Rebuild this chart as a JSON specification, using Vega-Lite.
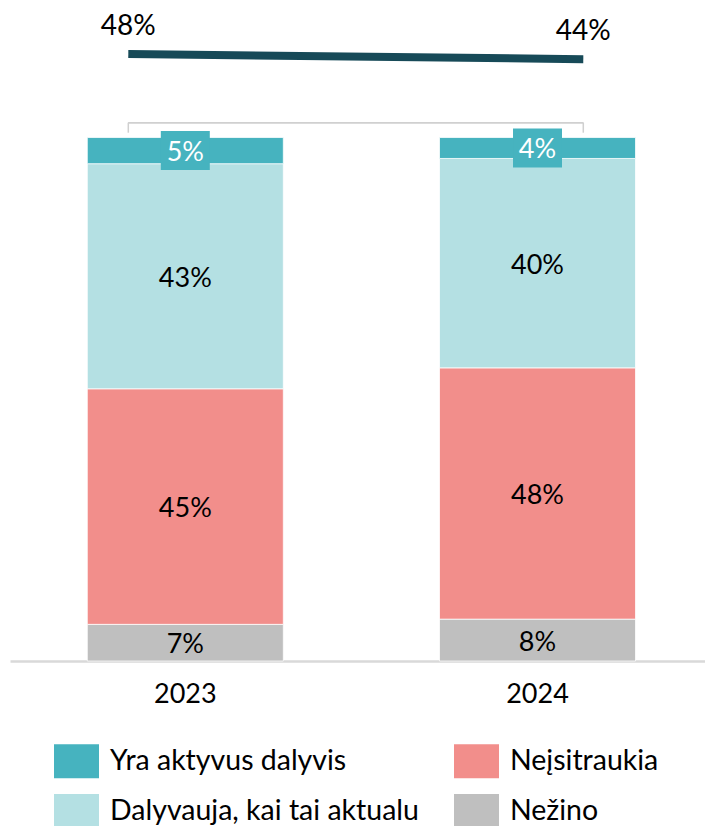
{
  "$schema": "https://vega.github.io/schema/vega-lite/v6.json",
  "width": 695,
  "height": 661,
  "autosize": "none",
  "padding": {"left": 10, "top": 0, "right": 0, "bottom": 165},
  "config": {"view": {"stroke": null}, "font": "Lato", "text": {"font": "Lato"}},
  "datasets": {
    "bars": [
      {"year": "2023", "category": "Nežino", "ord": 1, "value": 0.07},
      {"year": "2023", "category": "Neįsitraukia", "ord": 2, "value": 0.45},
      {"year": "2023", "category": "Dalyvauja, kai tai aktualu", "ord": 3, "value": 0.43},
      {"year": "2023", "category": "Yra aktyvus dalyvis", "ord": 4, "value": 0.05},
      {"year": "2024", "category": "Nežino", "ord": 1, "value": 0.08},
      {"year": "2024", "category": "Neįsitraukia", "ord": 2, "value": 0.48},
      {"year": "2024", "category": "Dalyvauja, kai tai aktualu", "ord": 3, "value": 0.40},
      {"year": "2024", "category": "Yra aktyvus dalyvis", "ord": 4, "value": 0.04}
    ],
    "line": [
      {"year": 2023, "share": 0.48},
      {"year": 2024, "share": 0.44}
    ]
  },
  "layer": [
    {
      "data": {"name": "bars"},
      "transform": [
        {"stack": "value", "groupby": ["year"], "sort": [{"field": "ord", "order": "ascending"}], "as": ["v0", "v1"]}
      ],
      "encoding": {
        "x": {
          "field": "year", "type": "nominal",
          "scale": {"paddingInner": 0.4435, "paddingOuter": 0.2084, "align": 0.5266},
          "axis": {
            "title": null, "labelAngle": 0, "ticks": false, "tickSize": 0,
            "labelFontSize": 27, "labelFont": "Lato", "labelColor": "#000000",
            "labelPadding": 20, "domainColor": "#D9D9D9", "domainWidth": 2.5
          }
        }
      },
      "layer": [
        {
          "mark": {"type": "bar", "stroke": "#ffffff", "strokeWidth": 0.75},
          "encoding": {
            "y": {"field": "v0", "type": "quantitative", "scale": {"domain": [0, 1.2627], "nice": false, "zero": true}, "axis": null},
            "y2": {"field": "v1"},
            "color": {
              "field": "category", "type": "nominal",
              "scale": {
                "domain": ["Yra aktyvus dalyvis", "Dalyvauja, kai tai aktualu", "Neįsitraukia", "Nežino"],
                "range": ["#46B3BF", "#B4E0E3", "#F28E8B", "#BFBFBF"]
              },
              "legend": {
                "title": null, "orient": "none", "legendX": 44, "legendY": 738.5,
                "direction": "vertical", "columns": 2, "columnPadding": 35, "rowPadding": 10,
                "padding": 0, "symbolType": "M-1,-0.7556H1V0.7556H-1Z", "symbolSize": 2025,
                "symbolStrokeWidth": 0, "symbolOpacity": 1,
                "labelFontSize": 28.5, "labelFont": "Lato", "labelColor": "#000000",
                "labelOffset": 11, "labelLimit": 400
              }
            },
            "order": {"field": "ord", "type": "quantitative"}
          }
        },
        {
          "transform": [
            {"filter": "datum.category === 'Yra aktyvus dalyvis'"},
            {"fold": ["v0", "v1"], "as": ["k", "pos"]}
          ],
          "mark": {"type": "point", "shape": "M-1.256,-1H1.256V1H-1.256Z", "size": 1521, "filled": true, "color": "#46B3BF", "opacity": 1, "strokeWidth": 0},
          "encoding": {
            "y": {"aggregate": "mean", "field": "pos", "type": "quantitative"}
          }
        },
        {
          "transform": [
            {"fold": ["v0", "v1"], "as": ["k", "pos"]}
          ],
          "mark": {"type": "text", "fontSize": 27, "font": "Lato", "baseline": "middle", "align": "center", "dy": 2.5},
          "encoding": {
            "y": {"aggregate": "mean", "field": "pos", "type": "quantitative"},
            "text": {"field": "value", "type": "quantitative", "format": ".0%"},
            "detail": {"field": "category", "type": "nominal"},
            "color": {
              "condition": {"test": "datum.category === 'Yra aktyvus dalyvis'", "value": "#ffffff"},
              "value": "#000000"
            }
          }
        }
      ]
    },
    {
      "data": {"name": "line"},
      "encoding": {
        "x": {"field": "year", "type": "quantitative", "scale": {"domain": [2022.74, 2024.2675], "nice": false, "zero": false}, "axis": null},
        "y": {"field": "share", "type": "quantitative", "scale": {"domain": [-4.1892, 0.8954], "nice": false, "zero": false}, "axis": null}
      },
      "layer": [
        {
          "mark": {"type": "rule", "color": "#D0D0D0", "strokeWidth": 1.5},
          "encoding": {
            "x": {"datum": 2023},
            "x2": {"datum": 2024},
            "y": {"datum": -0.0484}
          }
        },
        {
          "mark": {"type": "rule", "color": "#D0D0D0", "strokeWidth": 1.5},
          "encoding": {
            "y": {"datum": -0.0484},
            "y2": {"datum": -0.1254}
          }
        },
        {
          "mark": {"type": "line", "color": "#174A58", "strokeWidth": 8, "strokeCap": "butt"},
          "encoding": {}
        },
        {
          "mark": {"type": "text", "fontSize": 28, "font": "Lato", "dy": -27.5, "baseline": "middle", "align": "center", "color": "#000000"},
          "encoding": {
            "text": {"field": "share", "type": "quantitative", "format": ".0%"}
          }
        }
      ]
    }
  ],
  "resolve": {"scale": {"x": "independent", "y": "independent"}}
}
